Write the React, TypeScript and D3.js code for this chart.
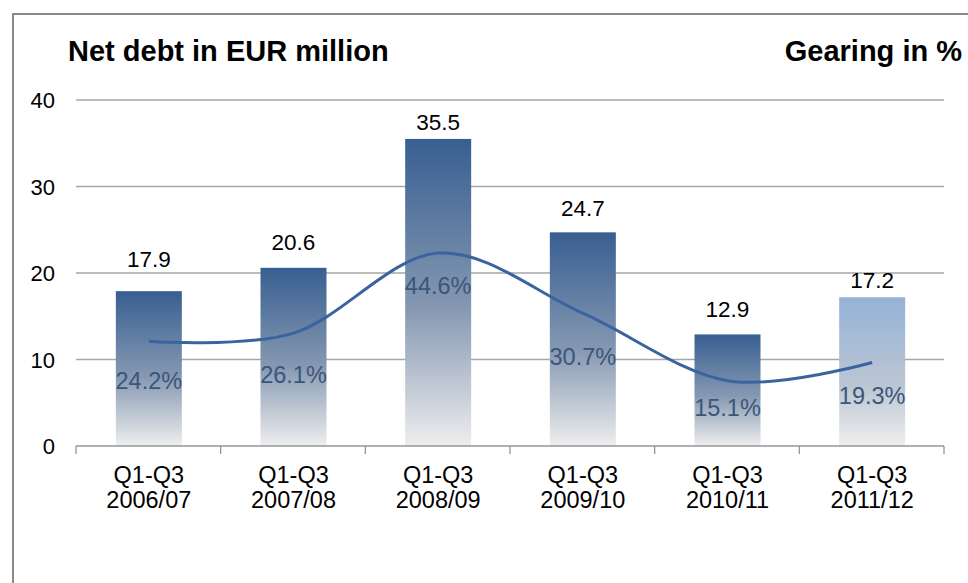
import React from 'react';
import * as d3 from 'd3';

const categories = ['2006/07', '2007/08', '2008/09', '2009/10', '2010/11', '2011/12'];
const netDebt = [17.9, 20.6, 35.5, 24.7, 12.9, 17.2];
const gearing = [24.2, 26.1, 44.6, 30.7, 15.1, 19.3];
const yTicks = [0, 10, 20, 30, 40];

const W = 968;
const H = 583;
const left = 76;
const right = 944;
const top = 100;
const bottom = 446;
const font = '"Liberation Sans", Arial, sans-serif';

// label placement as in the source (hand-moved labels)
const valueGap = [24, 18, 9, 16, 17, 9];
const pctGap = [48, 50, 41, 52, 35, 41];

const App = () => {
  const x = d3.scaleBand<number>().domain(categories.map((d, i) => i)).range([left, right]);
  const y = d3.scaleLinear().domain([0, 40]).range([bottom, top]);
  const y2 = d3.scaleLinear().domain([0, 80]).range([bottom, top]);
  const bw = x.bandwidth();
  const barW = 66;
  const cx = (i: number) => (x(i) as number) + bw / 2 + 0.5;

  const line = d3
    .line<number>()
    .x((d, i) => cx(i))
    .y(d => y2(d))
    .curve(d3.curveCatmullRom.alpha(0));

  return (
    <svg width={W} height={H} style={{ position: 'absolute', left: 0, top: 0, fontFamily: font }}>
      <defs>
        <linearGradient id="darkBar" x1="0" y1="0" x2="0" y2="1">
          <stop offset="0" stopColor="#385f91" />
          <stop offset="0.55" stopColor="#8598b2" />
          <stop offset="1" stopColor="#eeeeee" />
        </linearGradient>
        <linearGradient id="lightBar" x1="0" y1="0" x2="0" y2="1">
          <stop offset="0" stopColor="#95b3d7" />
          <stop offset="0.6" stopColor="#bcc6d3" />
          <stop offset="1" stopColor="#eeeeee" />
        </linearGradient>
      </defs>
      <rect x={0} y={0} width={W} height={H} fill="#ffffff" />
      <rect x={13} y={14} width={1000} height={700} fill="none" stroke="#8a8a8a" strokeWidth={2} />

      <text x={68} y={61} fontSize={29} fontWeight="bold" fill="#000">Net debt in EUR million</text>
      <text x={962} y={61} fontSize={29} fontWeight="bold" fill="#000" textAnchor="end">Gearing in %</text>

      {yTicks.map(t => (
        <g key={t}>
          {t > 0 && <line x1={left} x2={right} y1={y(t)} y2={y(t)} stroke="#a6a6a6" strokeWidth={1.3} />}
          <text x={55} y={y(t) + 8} fontSize={22} textAnchor="end" fill="#000">{t}</text>
        </g>
      ))}

      {netDebt.map((v, i) => (
        <g key={i}>
          <rect
            x={cx(i) - barW / 2}
            y={y(v)}
            width={barW}
            height={bottom - y(v)}
            fill={i === netDebt.length - 1 ? 'url(#lightBar)' : 'url(#darkBar)'}
          />
          <text x={cx(i)} y={y(v) - valueGap[i]} fontSize={22.5} textAnchor="middle" fill="#000">{v.toFixed(1)}</text>
        </g>
      ))}

      <line x1={left} x2={right} y1={bottom} y2={bottom} stroke="#969696" strokeWidth={1.3} />
      {d3.range(categories.length + 1).map(i => {
        const tx = left + i * bw;
        return <line key={i} x1={tx} x2={tx} y1={bottom} y2={bottom + 8} stroke="#969696" strokeWidth={1.3} />;
      })}

      {categories.map((c, i) => (
        <text key={c} textAnchor="middle" fontSize={23.5} fill="#000">
          <tspan x={cx(i)} y={483}>Q1-Q3</tspan>
          <tspan x={cx(i)} y={508}>{c}</tspan>
        </text>
      ))}

      <path d={line(gearing) || ''} fill="none" stroke="#3a64a0" strokeWidth={3} />

      {gearing.map((g, i) => (
        <text key={i} x={cx(i)} y={y2(g) + pctGap[i]} fontSize={23.5} textAnchor="middle" fill="#3b567a">
          {g.toFixed(1)}%
        </text>
      ))}
    </svg>
  );
};

export default App;
